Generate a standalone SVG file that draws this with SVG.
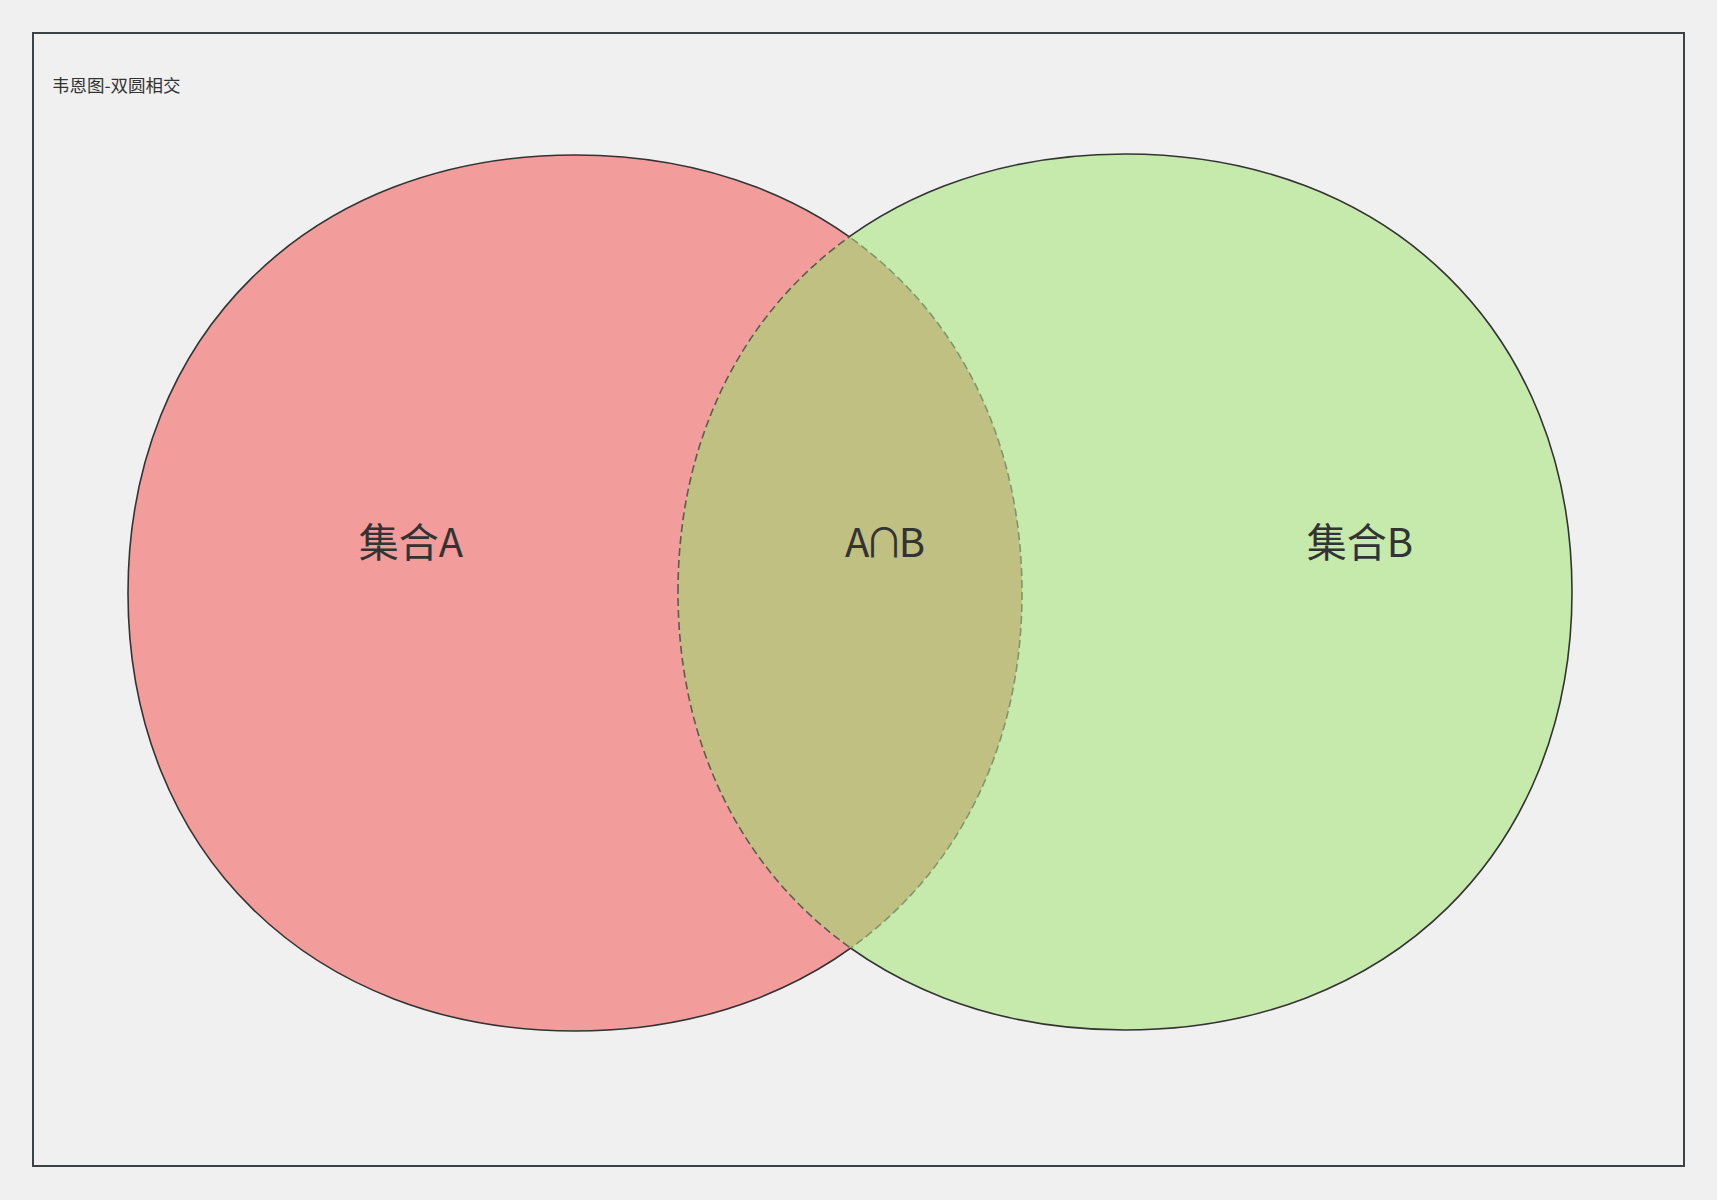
<svg xmlns="http://www.w3.org/2000/svg" xmlns:xlink="http://www.w3.org/1999/xlink" width="1717" height="1200" viewBox="0 0 1717 1200">
<style>
  .lbl { font-family: "Noto Sans CJK SC", "Noto Sans", sans-serif; fill: #333333; }
  .big { font-size: 40px; text-anchor: middle; }
  .outline { fill: none; stroke: #333333; stroke-width: 1.6; }
  .dash { fill: none; stroke-width: 1.6; stroke-dasharray: 8 4; }
</style>
<defs>
  <path id="shapeA" d="M 128,593 C 128,334.6 311.3,155 575,155 C 838.7,155 1022,334.6 1022,593 C 1022,851.4 838.7,1031 575,1031 C 311.3,1031 128,851.4 128,593 Z"/>
  <path id="shapeB" d="M 678,592 C 678,333.6 861.3,154 1125,154 C 1388.7,154 1572,333.6 1572,592 C 1572,850.4 1388.7,1030 1125,1030 C 861.3,1030 678,850.4 678,592 Z"/>
  <clipPath id="clipA"><use xlink:href="#shapeA"/></clipPath>
  <clipPath id="clipB"><use xlink:href="#shapeB"/></clipPath>
  <mask id="outsideA" maskUnits="userSpaceOnUse" x="0" y="0" width="1717" height="1200">
    <rect x="0" y="0" width="1717" height="1200" fill="#ffffff"/>
    <use xlink:href="#shapeA" fill="#000000"/>
  </mask>
  <mask id="outsideB" maskUnits="userSpaceOnUse" x="0" y="0" width="1717" height="1200">
    <rect x="0" y="0" width="1717" height="1200" fill="#ffffff"/>
    <use xlink:href="#shapeB" fill="#000000"/>
  </mask>
</defs>
<rect x="0" y="0" width="1717" height="1200" fill="#f0f0f0"/>
<g id="frame">
  <rect x="33" y="33" width="1651" height="1133" fill="none" stroke="#3d4248" stroke-width="2"/>
</g>
<g id="title">
  <text class="lbl" x="52" y="92" font-size="17.5" fill="#444444">韦恩图-双圆相交</text>
</g>
<g id="setA">
  <use xlink:href="#shapeA" fill="#f29d9b"/>
</g>
<g id="setB">
  <use xlink:href="#shapeB" fill="#c5eaab"/>
</g>
<g id="intersection">
  <use xlink:href="#shapeA" fill="#bfc081" clip-path="url(#clipB)"/>
</g>
<g id="outlines">
  <use xlink:href="#shapeA" class="outline" mask="url(#outsideB)"/>
  <use xlink:href="#shapeB" class="outline" mask="url(#outsideA)"/>
  <use xlink:href="#shapeA" class="dash" stroke="#7f9866" clip-path="url(#clipB)"/>
  <use xlink:href="#shapeB" class="dash" stroke="#5c5d50" clip-path="url(#clipA)"/>
</g>
<g id="labels">
  <text class="lbl big" x="411" y="557">集合A</text>
  <text class="lbl big" x="885" y="557" textLength="80" lengthAdjust="spacing">A∩B</text>
  <text class="lbl big" x="1360" y="557">集合B</text>
</g>
</svg>
